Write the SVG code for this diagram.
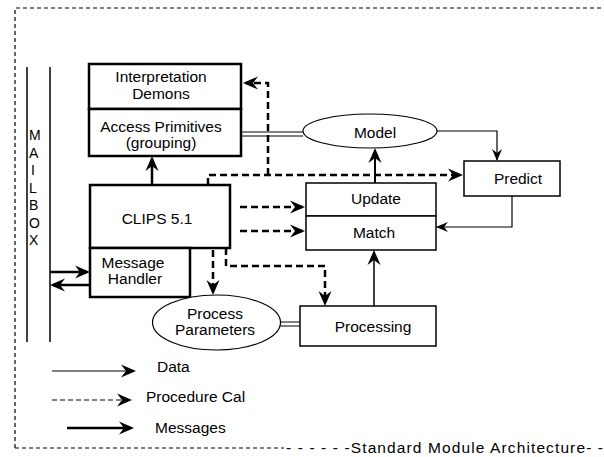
<svg xmlns="http://www.w3.org/2000/svg" width="604" height="457" viewBox="0 0 604 457">
<style>
text{font-family:"Liberation Sans",Arial,sans-serif;font-size:15.5px;fill:#000}
.c{text-anchor:middle}
.mb{font-size:14px}
.box{fill:#fff;stroke:#000}
.thick{stroke-width:2.5}
.thin{stroke-width:1.5}
.ln{fill:none;stroke:#000}
.dash{stroke-dasharray:7 4}
</style>
<defs>
<marker id="ah" viewBox="-16 -7 17 14" refX="-3" refY="0" markerWidth="17" markerHeight="14" orient="auto" markerUnits="userSpaceOnUse">
<path d="M0,0 L-15,-6.5 L-10,0 L-15,6.5 Z" fill="#000"/>
</marker>
<marker id="as" viewBox="-13 -6 14 12" refX="-1" refY="0" markerWidth="14" markerHeight="12" orient="auto" markerUnits="userSpaceOnUse">
<path d="M0,0 L-12,-5 L-8,0 L-12,5 Z" fill="#000"/>
</marker>
</defs>
<g id="frame">
<path class="ln" d="M15,448 V8 H604" stroke-width="1.2" stroke-dasharray="4 3"/>
<path class="ln" d="M15,448 H284" stroke-width="1.2" stroke-dasharray="4 3"/>
<text x="286" y="453" textLength="317" lengthAdjust="spacing">- - - - - -Standard Module Architecture- -</text>
</g>
<g id="mailbox">
<line x1="27" y1="67" x2="27" y2="342" stroke="#000" stroke-width="1.5"/>
<line x1="50" y1="67" x2="50" y2="342" stroke="#000" stroke-width="1.5"/>
<text class="mb" x="29" y="140">M</text>
<text class="mb" x="29" y="158">A</text>
<text class="mb" x="31" y="175">I</text>
<text class="mb" x="29" y="193">L</text>
<text class="mb" x="29" y="210">B</text>
<text class="mb" x="29" y="228">O</text>
<text class="mb" x="29" y="245">X</text>
</g>
<g id="interpretation-demons">
<rect class="box thick" x="89" y="64" width="152" height="45"/>
<text class="c" x="161" y="82">Interpretation</text>
<text class="c" x="161" y="99">Demons</text>
</g>
<g id="access-primitives">
<rect class="box thick" x="89" y="109" width="152" height="47"/>
<text class="c" x="161" y="132">Access Primitives</text>
<text class="c" x="161" y="148">(grouping)</text>
</g>
<g id="clips">
<rect class="box thick" x="90" y="185" width="140" height="63"/>
<text class="c" x="157" y="224">CLIPS 5.1</text>
</g>
<g id="message-handler">
<rect class="box thick" x="90" y="248" width="100" height="49"/>
<text class="c" x="133" y="268">Message</text>
<text class="c" x="135" y="284">Handler</text>
</g>
<g id="model">
<ellipse cx="370" cy="131" rx="67" ry="17" fill="#fff" stroke="#000" stroke-width="1.2"/>
<text class="c" x="375" y="138">Model</text>
</g>
<g id="predict">
<rect class="box thin" x="464" y="161" width="96" height="35"/>
<text class="c" x="518" y="184">Predict</text>
</g>
<g id="update">
<rect class="box thin" x="306" y="183" width="130" height="33"/>
<text class="c" x="376" y="204">Update</text>
</g>
<g id="match">
<rect class="box thin" x="306" y="216" width="130" height="34"/>
<text class="c" x="374" y="238">Match</text>
</g>
<g id="process-parameters">
<ellipse cx="216.5" cy="322.5" rx="64" ry="27.5" fill="#fff" stroke="#000" stroke-width="1.2"/>
<text class="c" x="215" y="319">Process</text>
<text class="c" x="215" y="335">Parameters</text>
</g>
<g id="processing">
<rect class="box thin" x="300" y="306" width="136" height="40"/>
<text class="c" x="373" y="332">Processing</text>
</g>
<g id="connectors">
<path class="ln thick" d="M152,185 V159" marker-end="url(#ah)"/>
<path class="ln thick dash" d="M208,185 V175 H460" marker-end="url(#ah)"/>
<path class="ln thick dash" d="M268,175 V83 H246" marker-end="url(#ah)"/>
<path class="ln" stroke-width="2" d="M375,183 V151" marker-end="url(#ah)"/>
<path class="ln" stroke-width="1.2" d="M437,131 H497 V160" marker-end="url(#as)"/>
<path class="ln" stroke-width="1.2" d="M512,196 V227 H437" marker-end="url(#as)"/>
<path class="ln thick dash" d="M240,207 H302" marker-end="url(#ah)"/>
<path class="ln thick dash" d="M240,231 H302" marker-end="url(#ah)"/>
<path class="ln thick dash" d="M213,250 V292" marker-end="url(#ah)"/>
<path class="ln thick dash" d="M226,248 V266 H325 V303" marker-end="url(#ah)"/>
<path class="ln" stroke-width="1.5" d="M374,306 V253" marker-end="url(#ah)"/>
<path class="ln thick" d="M50,272 H87" marker-end="url(#ah)"/>
<path class="ln thick" d="M90,285 H53" marker-end="url(#ah)"/>
<path class="ln" stroke-width="1.2" d="M241,132 H303 M241,136 H303"/>
<path class="ln" stroke-width="1.2" d="M280,322 H300 M280,326 H300"/>
</g>
<g id="legend">
<path class="ln" stroke-width="1.2" d="M52,371 H133" marker-end="url(#ah)"/>
<text x="157" y="372">Data</text>
<path class="ln" stroke-width="1.2" stroke-dasharray="5 3" d="M52,400 H129" marker-end="url(#ah)"/>
<text x="146" y="402">Procedure Cal</text>
<path class="ln thick" d="M67,428 H131" marker-end="url(#ah)"/>
<text x="155" y="433">Messages</text>
</g>
</svg>
